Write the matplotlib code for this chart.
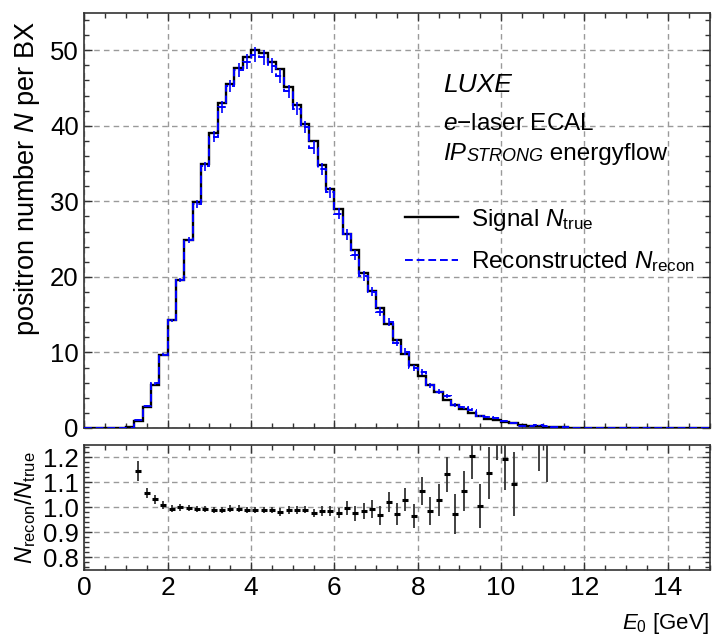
import numpy as np
import matplotlib
matplotlib.use('Agg')
import matplotlib.pyplot as plt
from matplotlib.ticker import MultipleLocator, FixedLocator, FormatStrFormatter
from matplotlib.lines import Line2D

plt.rcParams['font.family'] = ['Liberation Sans', 'DejaVu Sans']
plt.rcParams['mathtext.fontset'] = 'custom'
plt.rcParams['mathtext.rm'] = 'Liberation Sans'
plt.rcParams['mathtext.it'] = 'Liberation Sans:italic'
plt.rcParams['mathtext.bf'] = 'Liberation Sans:bold'

# histogram bins: 0.2 GeV wide, first bin starts at 1.0 GeV
bin_lo = 1.0
bin_w = 0.2
n_true = [0.17, 0.95, 2.75, 5.7, 9.6, 14.3, 19.6, 24.9, 29.9, 34.9,
          39.0, 43.0, 45.5, 47.6, 49.05, 50.0, 49.7, 48.5, 47.5, 45.1,
          42.8, 40.2, 38.0, 34.8, 31.7, 29.05, 25.7, 23.5, 20.5, 18.2,
          15.9, 13.7, 11.6, 9.8, 8.3, 6.9, 5.75, 4.7, 3.75, 3.1,
          2.55, 2.0, 1.55, 1.25, 1.0, 0.8, 0.6, 0.45, 0.3, 0.25,
          0.15, 0.1, 0.07, 0.04, 0.02]
n_recon = [0.0, 1.09, 2.91, 5.89, 9.69, 14.23, 19.6, 24.83, 29.66, 34.62,
           38.57, 42.53, 45.27, 47.36, 48.51, 49.4, 49.1, 47.97, 46.6, 44.56,
           42.29, 39.84, 37.13, 34.24, 31.19, 28.38, 25.62, 22.91, 20.17, 18.05,
           15.38, 13.99, 11.29, 10.1, 8.0, 7.35, 5.66, 4.83, 4.25, 3.02,
           2.72, 2.41, 1.56, 1.42, 1.33, 0.96, 0.66, 0.3, 0.2, 0.34,
           0.21, 0.1, 0.07, 0.04, 0.02]
recon_err = [0, 0.05, 0.1, 0.15, 0.2, 0.25, 0.32, 0.4, 0.5, 0.6,
             0.7, 0.8, 0.85, 0.9, 0.95, 1.0, 1.0, 0.95, 0.95, 0.9,
             0.9, 0.85, 0.85, 0.8, 0.75, 0.75, 0.7, 0.7, 0.65, 0.6,
             0.6, 0.55, 0.5, 0.45, 0.4, 0.4, 0.35, 0.3, 0.3, 0.25,
             0.22, 0.2, 0.15, 0.13, 0.12, 0.1, 0.08, 0.06, 0.05, 0.05,
             0.04, 0.03, 0.02, 0.02, 0.01]
nan = np.nan
ratio = [nan, 1.144, 1.057, 1.033, 1.009, 0.995, 1.0, 0.997, 0.992, 0.992,
         0.989, 0.989, 0.995, 0.995, 0.989, 0.988, 0.988, 0.989, 0.981, 0.988,
         0.988, 0.991, 0.977, 0.984, 0.984, 0.977, 0.997, 0.975, 0.984, 0.992,
         0.967, 1.021, 0.973, 1.031, 0.964, 1.065, 0.985, 1.028, 1.133, 0.973,
         1.067, 1.205, 1.005, 1.139, 1.33, 1.195, 1.092, nan, nan, 1.35,
         1.40, nan, nan, nan, nan]
ratio_err = [nan, 0.04, 0.02, 0.018, 0.015, 0.013, 0.013, 0.013, 0.013, 0.013,
             0.013, 0.013, 0.013, 0.013, 0.013, 0.013, 0.013, 0.013, 0.016, 0.016,
             0.016, 0.016, 0.018, 0.02, 0.02, 0.02, 0.028, 0.03, 0.032, 0.036,
             0.038, 0.041, 0.043, 0.047, 0.049, 0.057, 0.058, 0.065, 0.07, 0.08,
             0.08, 0.093, 0.088, 0.105, 0.14, 0.126, 0.129, nan, nan, 0.205,
             0.30, nan, nan, nan, nan]

x_min, x_max = 0, 15
edges = bin_lo + bin_w * np.arange(len(n_true) + 1)
centers = edges[:-1] + bin_w / 2
edges_full = np.concatenate([[x_min], edges, [x_max]])
true_full = np.concatenate([[0], n_true, [0]])
recon_full = np.concatenate([[0], n_recon, [0]])

fig = plt.figure(figsize=(7.12, 6.35), dpi=100)
ax = fig.add_axes([0.1184, 0.326, 0.8781, 0.6543])
ax2 = fig.add_axes([0.1184, 0.1031, 0.8781, 0.1961])

grid_kw = dict(color='#9a9a9a', linestyle=(0, (4, 3)), linewidth=1.0)

# main panel
ax.stairs(true_full, edges_full, baseline=None, color='black', linewidth=1.7, zorder=3)
ax.stairs(recon_full, edges_full, baseline=None, color='blue', linewidth=1.4,
          linestyle=(0, (4, 2)), zorder=4)
ax.errorbar(centers, n_recon, yerr=recon_err, fmt='none', ecolor='blue',
            elinewidth=1.2, zorder=4)
ax.set_xlim(x_min, x_max)
ax.set_ylim(0, 55)
ax.xaxis.set_major_locator(MultipleLocator(2))
ax.xaxis.set_minor_locator(MultipleLocator(0.5))
ax.yaxis.set_major_locator(MultipleLocator(10))
ax.yaxis.set_minor_locator(MultipleLocator(2))
ax.grid(True, which='major', **grid_kw)
ax.set_axisbelow(True)
ax.tick_params(which='both', direction='in', top=True, right=True,
               labelbottom=False, labelsize=18.5, width=1, color='#333333')
ax.tick_params(which='major', length=6, pad=4)
ax.tick_params(which='minor', length=3.5)
ax.set_ylabel('positron number $N$ per BX', fontsize=19.5)
ax.yaxis.set_label_coords(-0.068, 0.6)

ax.text(0.574, 0.809, 'LUXE', transform=ax.transAxes, fontsize=19,
        fontstyle='italic', va='baseline')
ax.text(0.574, 0.717, '$e$\u2212laser ECAL', transform=ax.transAxes,
        fontsize=17.5, va='baseline')
t1 = ax.text(0.574, 0.645, 'IP', transform=ax.transAxes, fontsize=17.5,
             fontstyle='italic', va='baseline')
t2 = ax.annotate('STRONG', xy=(1, 0), xycoords=t1, fontsize=13,
                 fontstyle='italic', va='bottom')
ax.annotate(' energyflow', xy=(1, 0), xycoords=t2, fontsize=17.5, va='bottom')

handles = [Line2D([], [], color='black', linewidth=1.7),
           Line2D([], [], color='blue', linewidth=1.4, linestyle=(0, (4, 2)))]
labels = [r'Signal $N_{\mathrm{true}}$', r'Reconstructed $N_{\mathrm{recon}}$']
ax.legend(handles, labels, loc='upper left', bbox_to_anchor=(0.513, 0.533),
          frameon=False, fontsize=17.5, handlelength=2.17, handletextpad=0.56,
          labelspacing=0.7, borderpad=0, borderaxespad=0)

for s in ax.spines.values():
    s.set_color('#333333')
    s.set_linewidth(1.2)

# ratio panel
ax2.errorbar(centers, ratio, yerr=ratio_err, fmt='_', color='black', ms=5,
             mew=2.2, ecolor='#333333', elinewidth=1.3, zorder=3)
ax2.set_xlim(x_min, x_max)
ax2.set_ylim(0.75, 1.25)
ax2.xaxis.set_major_locator(MultipleLocator(2))
ax2.xaxis.set_minor_locator(MultipleLocator(0.5))
ax2.yaxis.set_major_locator(FixedLocator([0.8, 0.9, 1.0, 1.1, 1.2]))
ax2.yaxis.set_minor_locator(MultipleLocator(0.02))
ax2.yaxis.set_major_formatter(FormatStrFormatter('%.1f'))
ax2.grid(True, which='major', **grid_kw)
ax2.set_axisbelow(True)
ax2.tick_params(which='both', direction='in', top=True, right=True,
                labelsize=18.5, width=1, color='#333333')
ax2.tick_params(which='major', length=6)
ax2.tick_params(which='minor', length=3.5)
ax2.tick_params(axis='x', pad=5, labelsize=19)
ax2.tick_params(axis='y', pad=4)
ax2.set_ylabel(r'$N_{\mathrm{recon}}/N_{\mathrm{true}}$', fontsize=17)
ax2.yaxis.set_label_coords(-0.074, 0.5)
ax2.set_xlabel(r'$E_0$ [GeV]', fontsize=16, loc='right')
ax2.xaxis.set_label_coords(1.0, -0.33)
for s in ax2.spines.values():
    s.set_color('#333333')
    s.set_linewidth(1.2)

fig.savefig('out.png', dpi=100)
